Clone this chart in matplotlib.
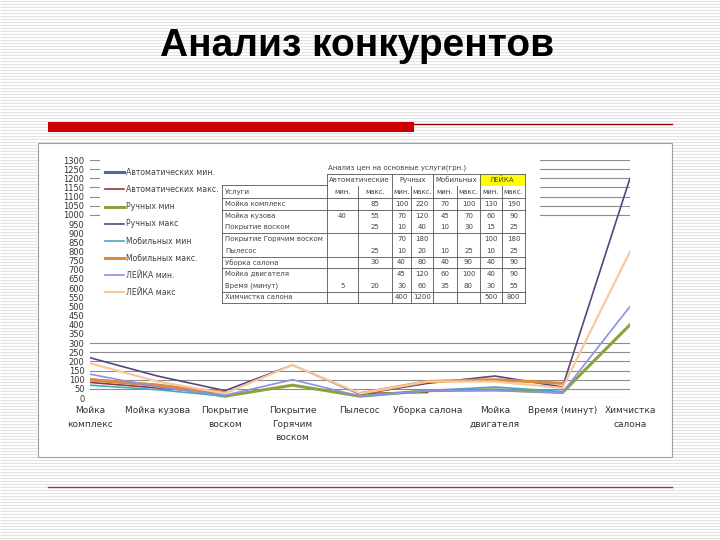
import numpy as np
from matplotlib import pyplot as plt
from matplotlib.patches import Rectangle

nan = np.nan

# categories (chart axis labels and table rows)
cat_labels = ['Мойка\nкомплекс', 'Мойка кузова', 'Покрытие\nвоском', 'Покрытие\nГорячим\nвоском',
              'Пылесос', 'Уборка салона', 'Мойка\nдвигателя', 'Время (минут)', 'Химчистка\nсалона']
services = ['Мойка комплекс', 'Мойка кузова', 'Покрытие воском', 'Покрытие Горячим воском',
            'Пылесос', 'Уборка салона', 'Мойка двигателя', 'Время (минут)', 'Химчистка салона']

# prices, grn
auto_min = [nan, 40, nan, nan, nan, nan, nan, 5, nan]
auto_max = [85, 55, 25, nan, 25, 30, nan, 20, nan]
hand_min = [100, 70, 10, 70, 10, 40, 45, 30, 400]
hand_max = [220, 120, 40, 180, 20, 80, 120, 60, 1200]
mob_min = [70, 45, 10, nan, 10, 40, 60, 35, nan]
mob_max = [100, 70, 30, nan, 25, 90, 100, 80, nan]
leika_min = [130, 60, 15, 100, 10, 40, 40, 30, 500]
leika_max = [190, 90, 25, 180, 25, 90, 90, 55, 800]

series = [auto_min, auto_max, hand_min, hand_max, mob_min, mob_max, leika_min, leika_max]
names = ['Автоматических мин.', 'Автоматических макс.', 'Ручных мин', 'Ручных макс',
         'Мобильных мин', 'Мобильных макс.', 'ЛЕЙКА мин.', 'ЛЕЙКА макс']
colors = ['#4a6aa0', '#8e3a3a', '#8aa23e', '#55467e', '#4ba6c4', '#e0893a', '#8f8fe6', '#f6c99c']
widths = [2.2, 1.2, 2.2, 1.2, 1.2, 2.2, 1.2, 1.6]

groups = ['Автоматические', 'Ручных', 'Мобильных', 'ЛЕЙКА']

fig = plt.figure(figsize=(7.2, 5.4), dpi=100)

# slide background in pixel coordinates
bg = fig.add_axes([0, 0, 1, 1])
bg.set_xlim(0, 720)
bg.set_ylim(540, 0)
bg.axis('off')
bg.hlines(np.arange(1, 540, 3), 0, 720, color='#e2e2e2', lw=0.8, zorder=1)
bg.add_patch(Rectangle((38, 143), 634, 314, facecolor='white', edgecolor='#a0a0a0', lw=0.8, zorder=3))
bg.text(357, 46, 'Анализ конкурентов', ha='center', va='center', fontsize=28,
        fontweight='bold', family='Liberation Sans', color='black', zorder=4)
bg.add_patch(Rectangle((48, 122), 366, 10, facecolor='#cc0000', edgecolor='none', zorder=4))
bg.plot([414, 672], [123.5, 123.5], color='#990000', lw=1, zorder=4)
bg.plot([48, 672], [487, 487], color='#9a3b3b', lw=1, zorder=4)

# chart
ax = fig.add_axes([90 / 720, 1 - 398 / 540, 540 / 720, 238 / 540])
ax.set_facecolor('none')
x = np.arange(len(cat_labels))
for vals, name, c, w in zip(series, names, colors, widths):
    ax.plot(x, vals, color=c, lw=w, label=name, zorder=3)

ax.set_xlim(0, len(cat_labels) - 1)
ax.set_ylim(0, 1300)
ax.set_yticks(np.arange(0, 1301, 50))
ax.set_xticks(x)
ax.set_xticklabels(cat_labels, fontsize=6.5, color='#333333', linespacing=1.6)
ax.tick_params(axis='y', length=0, labelsize=6, labelcolor='#333333', pad=4)
ax.tick_params(axis='x', length=0, pad=6)
for s in ax.spines.values():
    s.set_visible(False)
ax.yaxis.grid(True, color='#8c8c8c', lw=0.8)
ax.set_axisbelow(True)

# white areas of the pasted legend / table cover the gridlines
ax.add_patch(Rectangle((100, 150), 440, 67, facecolor='white', edgecolor='none',
                       transform=bg.transData, zorder=1))
ax.add_patch(Rectangle((88, 217), 550, 124, facecolor='white', edgecolor='none',
                       transform=bg.transData, zorder=1))

leg = ax.legend(loc='upper left', bbox_to_anchor=(105 / 720, 1 - 168 / 540),
                bbox_transform=fig.transFigure, frameon=False, fontsize=5.6,
                handlelength=2.4, handletextpad=0.3, labelspacing=1.05,
                borderpad=0, borderaxespad=0)
for t in leg.get_texts():
    t.set_color('#404040')

# price table drawn on top
tb = fig.add_axes([0, 0, 1, 1])
tb.set_xlim(0, 720)
tb.set_ylim(540, 0)
tb.axis('off')

col_edges = [222, 327, 358, 392, 411, 433, 457, 480, 502, 525]
row_top = 198
row_h = 11.7
n = len(services)
bottom = row_top + row_h * n
lc = '#555555'
tfs = 5

tb.add_patch(Rectangle((480, 174), 45, 12, facecolor='#ffff00', edgecolor='none'))
tb.text(328, 168, 'Анализ цен на основные услуги(грн.)', fontsize=tfs, color='#444444',
        va='center', ha='left')

# header
for i, g in enumerate(groups):
    x0 = col_edges[1 + 2 * i]
    x1 = col_edges[3 + 2 * i]
    tb.text((x0 + x1) / 2, 180, g, fontsize=tfs, color='#444444', ha='center', va='center')
    tb.text((col_edges[1 + 2 * i] + col_edges[2 + 2 * i]) / 2, 192, 'мин.', fontsize=tfs,
            color='#444444', ha='center', va='center')
    tb.text((col_edges[2 + 2 * i] + col_edges[3 + 2 * i]) / 2, 192, 'макс.', fontsize=tfs,
            color='#444444', ha='center', va='center')
tb.text(225, 192, 'Услуги', fontsize=tfs, color='#444444', ha='left', va='center')

tb.plot([327, 525], [174, 174], color=lc, lw=0.6)
tb.plot([222, 327], [185, 185], color=lc, lw=0.6)
for xe in [327, 392, 433, 480, 525]:
    tb.plot([xe, xe], [174, 186], color=lc, lw=0.6)
for xe in col_edges:
    tb.plot([xe, xe], [185 if xe == 222 else 186, bottom], color=lc, lw=0.6)
for r in [0, 1, 3, 5, 6, 8, 9]:
    yy = row_top + row_h * r
    tb.plot([222, 525], [yy, yy], color=lc, lw=0.6)

# rows
for r, name in enumerate(services):
    yc = row_top + row_h * (r + 0.5)
    tb.text(225, yc, name, fontsize=tfs, color='#444444', ha='left', va='center')
    for j, vals in enumerate(series):
        v = vals[r]
        if np.isnan(v):
            continue
        xc = (col_edges[1 + j] + col_edges[2 + j]) / 2
        tb.text(xc, yc, '%d' % v, fontsize=tfs, color='#444444', ha='center', va='center')

plt.savefig('out.png', dpi=100)
